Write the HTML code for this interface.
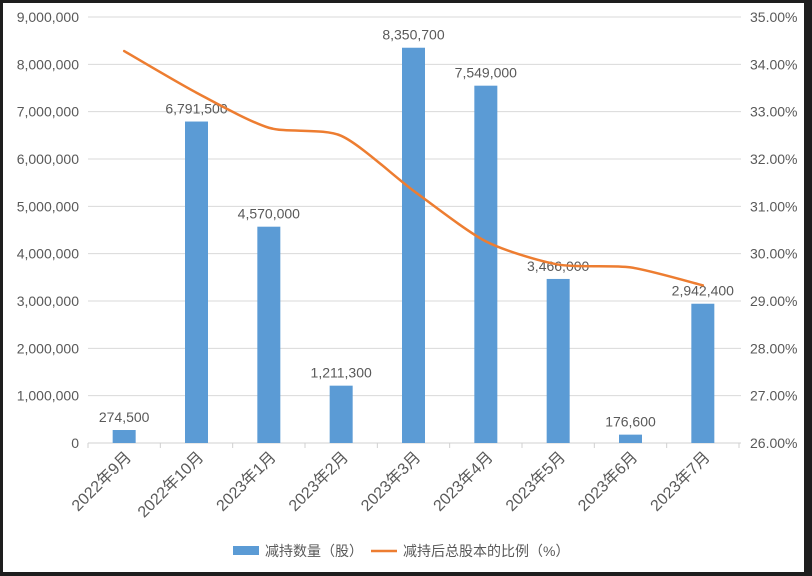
<!DOCTYPE html>
<html><head><meta charset="utf-8"><style>
body{margin:0;background:#222;}
#wrap{position:absolute;left:0;top:0;width:812px;height:576px;background:#1e1e1e;}
#card{position:absolute;left:3px;top:3px;width:801px;height:569px;background:#fff;}
svg{position:absolute;left:0;top:0;}
text{font-family:"Liberation Sans","Noto Sans CJK SC",sans-serif;fill:#595959;}
</style></head><body>
<div id="wrap"><div id="card"></div>
<svg id="chart" width="812" height="576"></svg></div>
<script>
const categories=["2022年9月","2022年10月","2023年1月","2023年2月","2023年3月","2023年4月","2023年5月","2023年6月","2023年7月"];
const barValues=[274500,6791500,4570000,1211300,8350700,7549000,3466000,176600,2942400];
const barLabels=["274,500","6,791,500","4,570,000","1,211,300","8,350,700","7,549,000","3,466,000","176,600","2,942,400"];
const lineValues=[34.28,33.40,32.66,32.49,31.33,30.26,29.77,29.71,29.33];
const leftTicks=[0,1000000,2000000,3000000,4000000,5000000,6000000,7000000,8000000,9000000];
const rightTicks=[26,27,28,29,30,31,32,33,34,35];
const NS="http://www.w3.org/2000/svg",svg=document.getElementById('chart');
const X0=88,X1=739,Y0=443,Y1=17,cw=(X1-X0)/categories.length;
const yL=v=>Y0-(v/9000000)*(Y0-Y1);
const yR=v=>Y0-((v-26)/9)*(Y0-Y1);
const xc=i=>X0+cw*(i+0.5);
function el(t,a,txt){const e=document.createElementNS(NS,t);for(const k in a)e.setAttribute(k,a[k]);if(txt!=null)e.textContent=txt;svg.appendChild(e);return e;}
leftTicks.forEach((v,i)=>{
 const g=el('line',{x1:X0,x2:X1+2,y1:yL(v),y2:yL(v),stroke:i?'#d9d9d9':'#d0d0d0','stroke-width':1});
 
 const t=el('text',{x:79,y:yL(v)+5,'text-anchor':'end','font-size':14},v.toLocaleString('en-US'));
 
});
rightTicks.forEach(v=>{
 const t=el('text',{x:750,y:yR(v)+5,'font-size':14},v.toFixed(2)+'%');
 
});
for(let i=0;i<=categories.length;i++){const tk=el('line',{x1:X0+cw*i,x2:X0+cw*i,y1:Y0,y2:Y0+5,stroke:'#d0d0d0'});}
categories.forEach((c,i)=>{
 const x=xc(i);
 const b=el('rect',{x:x-11.5,y:yL(barValues[i]),width:23,height:Y0-yL(barValues[i]),fill:'#5b9bd5'});
 
 const l=el('text',{x:x,y:yL(barValues[i])-8,'text-anchor':'middle','font-size':14,fill:'#404040'},barLabels[i]);
 
 const t=el('text',{x:x+8,y:Y0+15,'text-anchor':'end','font-size':16,transform:`rotate(-45 ${x+8} ${Y0+15})`},c);
 
});
const pts=lineValues.map((v,i)=>[xc(i),yR(v)]);
let d=`M${pts[0][0]},${pts[0][1]}`;
for(let i=0;i<pts.length-1;i++){const p0=pts[i-1]||pts[i],p1=pts[i],p2=pts[i+1],p3=pts[i+2]||p2;const k=8;
 d+=` C${p1[0]+(p2[0]-p0[0])/k},${p1[1]+(p2[1]-p0[1])/k} ${p2[0]-(p3[0]-p1[0])/k},${p2[1]-(p3[1]-p1[1])/k} ${p2[0]},${p2[1]}`;}
const line=el('path',{d:d,fill:'none',stroke:'#ed7d31','stroke-width':2.5,'stroke-linecap':'round'});

const lg1=el('rect',{x:233,y:546,width:26,height:9,fill:'#5b9bd5'});
const lt1=el('text',{x:265,y:556,'font-size':14},'减持数量（股）');
const lg2=el('line',{x1:371,x2:397,y1:551,y2:551,stroke:'#ed7d31','stroke-width':2.5});
const lt2=el('text',{x:403,y:556,'font-size':14},'减持后总股本的比例（%）');
</script></body></html>
